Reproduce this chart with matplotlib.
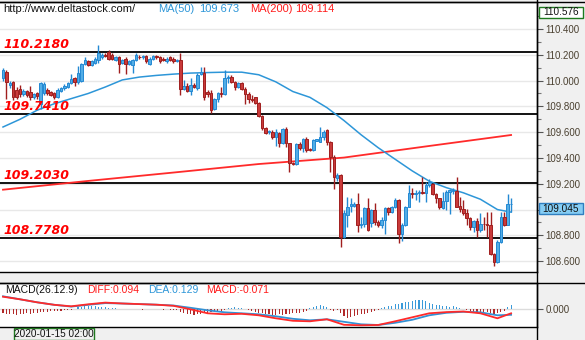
import matplotlib
matplotlib.use("Agg")
import matplotlib.pyplot as plt
import numpy as np
from matplotlib.patches import Rectangle
from matplotlib.lines import Line2D
from matplotlib.ticker import FixedLocator, FixedFormatter

# ---------------- data ----------------
opens = [110.020, 110.070, 109.965, 109.985, 109.930, 109.935, 109.895, 109.920, 109.910, 109.870,
         109.900, 109.815, 109.900, 109.930, 109.910, 109.905, 109.875, 109.920, 109.940, 109.950,
         109.980, 110.020, 109.990, 110.000, 110.130, 110.150, 110.120, 110.140, 110.160, 110.180,
         110.200, 110.220, 110.200, 110.160, 110.180, 110.140, 110.170, 110.130, 110.120, 110.160,
         110.185, 110.180, 110.190, 110.130, 110.170, 110.190, 110.180, 110.170, 110.150, 110.180,
         110.170, 110.150, 110.160, 109.932, 109.958, 109.922, 109.966, 109.940, 110.050, 110.056,
         109.910, 109.906, 109.777, 109.855, 109.901, 109.893, 110.018, 110.030, 109.992, 109.948,
         109.984, 109.937, 109.893, 109.860, 109.870, 109.824, 109.726, 109.630, 109.600, 109.604,
         109.565, 109.596, 109.519, 109.622, 109.514, 109.359, 109.353, 109.509, 109.475, 109.550,
         109.466, 109.462, 109.535, 109.527, 109.560, 109.617, 109.520, 109.410, 109.245, 109.268,
         108.790, 108.958, 109.030, 109.030, 109.043, 108.880, 108.886, 109.010, 108.894, 108.997,
         108.906, 108.881, 108.919, 109.010, 108.984, 109.018, 109.074, 108.808, 108.881, 109.023,
         109.126, 109.118, 109.130, 109.135, 109.130, 109.190, 109.200, 109.118, 109.087, 109.010,
         109.070, 109.139, 109.147, 109.147, 109.028, 109.002, 108.971, 108.932, 108.863, 108.914,
         108.842, 108.888, 108.886, 108.880, 108.656, 108.591, 108.751, 108.945, 108.881, 109.043]
highs = [110.100, 110.085, 109.995, 110.000, 109.950, 109.965, 109.935, 109.930, 109.960, 109.905,
         109.910, 109.990, 109.990, 109.940, 109.920, 109.915, 109.940, 109.950, 109.970, 109.990,
         110.050, 110.030, 110.110, 110.140, 110.180, 110.160, 110.160, 110.180, 110.276, 110.215,
         110.210, 110.237, 110.210, 110.190, 110.190, 110.170, 110.180, 110.160, 110.170, 110.210,
         110.195, 110.200, 110.200, 110.180, 110.200, 110.200, 110.190, 110.180, 110.180, 110.190,
         110.180, 110.170, 110.211, 110.005, 109.979, 110.018, 109.979, 110.056, 110.108, 110.108,
         109.927, 109.927, 109.863, 109.914, 109.953, 110.082, 110.043, 110.043, 109.998, 109.990,
         109.992, 109.953, 109.914, 109.888, 109.875, 109.837, 109.734, 109.638, 109.617, 109.617,
         109.622, 109.604, 109.630, 109.638, 109.519, 109.372, 109.514, 109.527, 109.557, 109.560,
         109.480, 109.545, 109.550, 109.638, 109.617, 109.622, 109.530, 109.420, 109.280, 109.276,
         109.000, 109.100, 109.087, 109.062, 109.126, 108.945, 109.023, 109.087, 109.002, 109.049,
         108.920, 108.945, 109.018, 109.023, 109.030, 109.087, 109.080, 108.894, 109.028, 109.190,
         109.165, 109.152, 109.152, 109.255, 109.217, 109.235, 109.204, 109.126, 109.087, 109.139,
         109.152, 109.157, 109.165, 109.250, 109.095, 109.075, 109.002, 108.945, 108.920, 108.932,
         108.971, 108.945, 108.984, 108.984, 108.661, 108.765, 108.984, 108.984, 109.120, 109.087]
lows = [109.995, 109.860, 109.945, 109.850, 109.860, 109.870, 109.880, 109.870, 109.850, 109.860,
        109.860, 109.780, 109.885, 109.890, 109.880, 109.860, 109.865, 109.910, 109.930, 109.940,
        109.970, 109.960, 109.970, 109.990, 110.120, 110.110, 110.110, 110.130, 110.140, 110.170,
        110.180, 110.160, 110.160, 110.150, 110.060, 110.130, 110.050, 110.120, 110.060, 110.150,
        110.170, 110.170, 110.140, 110.120, 110.160, 110.170, 110.140, 110.150, 110.140, 110.150,
        110.140, 110.145, 109.888, 109.927, 109.914, 109.888, 109.940, 109.927, 110.043, 109.850,
        109.875, 109.748, 109.772, 109.837, 109.875, 109.888, 109.979, 109.979, 109.927, 109.940,
        109.927, 109.819, 109.824, 109.837, 109.819, 109.715, 109.617, 109.586, 109.586, 109.545,
        109.493, 109.488, 109.509, 109.488, 109.294, 109.346, 109.346, 109.462, 109.449, 109.449,
        109.455, 109.457, 109.530, 109.527, 109.540, 109.500, 109.290, 109.160, 109.220, 108.713,
        108.780, 108.862, 108.984, 109.023, 108.829, 108.855, 108.868, 108.836, 108.863, 108.881,
        108.863, 108.855, 108.808, 108.958, 108.975, 109.010, 108.744, 108.760, 108.873, 109.018,
        109.087, 109.074, 109.062, 109.120, 109.062, 109.178, 109.113, 109.049, 109.002, 109.002,
        109.000, 108.963, 109.121, 109.020, 108.984, 108.958, 108.881, 108.842, 108.829, 108.790,
        108.829, 108.842, 108.790, 108.648, 108.565, 108.584, 108.744, 108.873, 108.881, 108.984]
closes = [110.080, 109.990, 109.980, 109.870, 109.875, 109.895, 109.920, 109.890, 109.870, 109.895,
          109.880, 109.980, 109.975, 109.900, 109.890, 109.875, 109.930, 109.940, 109.960, 109.980,
          110.010, 109.990, 110.060, 110.130, 110.160, 110.120, 110.150, 110.170, 110.210, 110.200,
          110.190, 110.170, 110.170, 110.180, 110.130, 110.160, 110.130, 110.150, 110.160, 110.200,
          110.182, 110.190, 110.150, 110.170, 110.190, 110.180, 110.150, 110.160, 110.170, 110.160,
          110.150, 110.160, 109.932, 109.958, 109.922, 109.966, 109.948, 110.043, 110.070, 109.870,
          109.895, 109.772, 109.855, 109.901, 109.897, 110.018, 110.030, 109.992, 109.948, 109.984,
          109.937, 109.893, 109.855, 109.850, 109.824, 109.726, 109.630, 109.596, 109.612, 109.565,
          109.604, 109.519, 109.622, 109.519, 109.359, 109.353, 109.509, 109.475, 109.550, 109.462,
          109.462, 109.540, 109.545, 109.565, 109.604, 109.520, 109.410, 109.250, 109.265, 108.790,
          108.971, 109.023, 109.040, 109.040, 108.881, 108.886, 109.010, 108.842, 108.997, 108.906,
          108.881, 108.919, 109.010, 108.984, 109.018, 109.074, 108.808, 108.881, 109.023, 109.126,
          109.118, 109.130, 109.135, 109.130, 109.190, 109.217, 109.118, 109.087, 109.023, 109.070,
          109.139, 109.152, 109.149, 109.023, 109.002, 108.971, 108.932, 108.863, 108.914, 108.842,
          108.888, 108.885, 108.880, 108.656, 108.591, 108.751, 108.945, 108.881, 109.043, 109.045]

ma50_idx = [0, 5, 10, 15, 20, 25, 30, 35, 40, 45, 50, 55, 60, 65, 70, 75, 80, 85, 90, 95,
            100, 105, 110, 115, 120, 125, 130, 135, 140, 145, 149]
ma50_val = [109.64, 109.70, 109.77, 109.82, 109.86, 109.90, 109.95, 110.005, 110.027, 110.04,
            110.05, 110.058, 110.062, 110.065, 110.065, 110.045, 109.99, 109.915, 109.87, 109.79,
            109.69, 109.58, 109.48, 109.39, 109.30, 109.22, 109.17, 109.13, 109.08, 109.00, 108.98]
ma200_idx = [0, 25, 50, 75, 100, 125, 149]
ma200_val = [109.154, 109.222, 109.287, 109.353, 109.403, 109.493, 109.578]

levels = [110.2180, 109.7410, 109.2030, 108.7780]

macd_hist = [-0.04, -0.05, -0.05, -0.05, -0.06, -0.05, -0.05, -0.04, -0.05, -0.04,
             -0.04, -0.03, -0.03, -0.03, -0.02, -0.02, -0.02, -0.02, -0.01, -0.01,
             -0.005, 0.005,
             0.02, 0.02, 0.03, 0.03, 0.03, 0.03, 0.02, 0.02, 0.02, 0.01, 0.01,
             0.01, 0.005, 0.005, 0.003, 0.0, 0.0, 0.002, 0.0, -0.002, 0.0, 0.0, 0.002, 0.0, 0.0,
             -0.002, 0.0, -0.003, -0.005, -0.01,
             -0.03, -0.04, -0.05, -0.05, -0.06, -0.05, -0.05, -0.04, -0.04, -0.03, -0.03, -0.02,
             -0.02, -0.01,
             0.01, 0.015, 0.02, 0.015, 0.01, 0.005,
             -0.01, -0.02, -0.03, -0.04, -0.04, -0.05, -0.05, -0.06, -0.06, -0.05, -0.06, -0.05,
             -0.05, -0.04, -0.04, -0.04,
             -0.03, -0.02,
             0.01, 0.02, 0.03, 0.04, 0.03, 0.02,
             -0.01, -0.02, -0.01,
             -0.04, -0.07, -0.09, -0.08, -0.07, -0.06, -0.05, -0.05, -0.04, -0.03,
             -0.02, -0.01,
             0.01, 0.02, 0.03, 0.03, 0.05, 0.05, 0.06, 0.07, 0.07, 0.08, 0.09, 0.09, 0.09, 0.08,
             0.06, 0.05, 0.04, 0.04,
             0.03, 0.03, 0.02, 0.03, 0.02, 0.01, 0.005,
             -0.01, -0.02, -0.03, -0.03, -0.03, -0.04, -0.03, -0.04, -0.05, -0.04, -0.03, -0.02,
             0.02, 0.04]
macd_idx = [0, 5, 10, 15, 20, 25, 30, 35, 40, 45, 50, 55, 60, 65, 70, 75, 80, 85, 90, 95,
            100, 105, 110, 115, 120, 125, 130, 135, 140, 145, 149]
diff_val = [0.126, 0.10, 0.07, 0.045, 0.03, 0.05, 0.067, 0.058, 0.052, 0.046, 0.035, 0.0,
            -0.04, -0.05, -0.045, -0.06, -0.09, -0.115, -0.12, -0.10, -0.155, -0.16, -0.157,
            -0.12, -0.08, -0.04, -0.028, -0.022, -0.04, -0.09, -0.04]
dea_val = [0.13, 0.10, 0.07, 0.045, 0.027, 0.045, 0.062, 0.058, 0.052, 0.046, 0.038, 0.015,
           -0.01, -0.03, -0.04, -0.05, -0.07, -0.095, -0.11, -0.10, -0.125, -0.15, -0.157,
           -0.135, -0.105, -0.06, -0.035, -0.025, -0.03, -0.06, -0.055]

site_text = "http://www.deltastock.com/"
ma50_text, ma50_last = "MA(50)", "109.673"
ma200_text, ma200_last = "MA(200)", "109.114"
macd_texts = ["MACD(26.12.9)", "DIFF:0.094", "DEA:0.129", "MACD:-0.071"]
last_price = "109.045"
top_price = "110.576"
date_label = "2020-01-15 02:00"
price_ticks = [108.6, 108.8, 109.0, 109.2, 109.4, 109.6, 109.8, 110.0, 110.2, 110.4]
# the 109.000 label is hidden behind the last-price box in the reference
price_tick_labels = ["108.600", "108.800", "", "109.200", "109.400", "109.600", "109.800",
                     "110.000", "110.200", "110.400"]

# ---------------- layout ----------------
W, H = 585, 340
fig = plt.figure(figsize=(W / 100, H / 100), dpi=100, facecolor="#f0f0f0")
UI = "Liberation Sans"


def fx(px):
    return px / W


def fy(py):
    return 1 - py / H


ax = fig.add_axes([0, fy(272), fx(537), (272 - 2) / H])
mx = fig.add_axes([0, fy(327), fx(537), (327 - 283) / H])

x = np.arange(len(opens))
o = np.array(opens); h = np.array(highs); l = np.array(lows); c = np.array(closes)
up = c >= o
RED_F, RED_E = "#c93a3a", "#a01e1e"
BLU_F, BLU_E = "#52ade6", "#2389d3"

xl = (-0.88, 156.6)
for a in (ax, mx):
    a.set_xlim(*xl)
    a.set_facecolor("white")
    a.set_xticks([])
    a.spines["left"].set_visible(False)
    for s in ("top", "bottom", "right"):
        a.spines[s].set_color("black")
        a.spines[s].set_linewidth(1.0)

ax.set_ylim(108.516, 110.609)
ax.yaxis.tick_right()
ax.yaxis.set_major_locator(FixedLocator(price_ticks))
ax.yaxis.set_major_formatter(FixedFormatter(price_tick_labels))
ax.yaxis.set_minor_locator(FixedLocator([v + 0.1 for v in price_ticks]))
ax.tick_params(axis="y", which="major", length=4, width=0.8, color="#555555",
               labelsize=7, labelcolor="#4a4030", pad=2)
ax.tick_params(axis="y", which="minor", length=3, width=0.8, color="#777777")
for t in ax.get_yticklabels():
    t.set_family(UI)
ax.grid(axis="y", which="major", color="#e8e8e8", lw=1.0, zorder=0)
ax.set_axisbelow(True)

# levels
for v in levels:
    ax.axhline(v, color="black", lw=1.3, zorder=2)

# moving averages
ax.plot(ma200_idx, ma200_val, color="#ff2a2a", lw=1.3, zorder=3)
ax.plot(ma50_idx, ma50_val, color="#2d96d8", lw=1.1, zorder=3)

# candles
ax.vlines(x[up], l[up], h[up], colors=BLU_E, lw=1.0, zorder=4)
ax.vlines(x[~up], l[~up], h[~up], colors=RED_E, lw=1.0, zorder=4)
bh = np.maximum(np.abs(c - o), 0.004)
bb = np.minimum(o, c)
ax.bar(x[up], bh[up], bottom=bb[up], width=0.74, color=BLU_F, edgecolor=BLU_E, lw=0.7, zorder=5)
ax.bar(x[~up], bh[~up], bottom=bb[~up], width=0.74, color=RED_F, edgecolor=RED_E, lw=0.7, zorder=5)

# level labels
for v in levels:
    ax.annotate(f"{v:.4f}", xy=(0, v), xycoords=("axes fraction", "data"),
                xytext=(3, 4), textcoords="offset pixels", ha="left", va="baseline",
                fontsize=9, fontweight="bold", fontstyle="italic", color="#ff0000",
                family="DejaVu Sans", zorder=6)

# MACD panel
hist = np.array(macd_hist)
mx.set_ylim(-0.177, 0.263)
mx.axhline(0, color="#dcdcdc", lw=1.0, zorder=1)
mx.bar(x[hist >= 0], hist[hist >= 0], width=0.32, color="#3a9ad9", zorder=2)
mx.bar(x[hist < 0], hist[hist < 0], width=0.32, color="#b22a2a", zorder=2)
mx.plot(macd_idx, dea_val, color="#3391d4", lw=1.3, zorder=3)
mx.plot(macd_idx, diff_val, color="#ff2a2a", lw=1.3, zorder=3)
mx.yaxis.tick_right()
mx.set_yticks([0.0])
mx.set_yticklabels(["0.000"], family=UI)
mx.tick_params(axis="y", length=4, width=0.8, color="#555555", labelsize=7,
               labelcolor="#4a4030", pad=2)

# frame lines
fig.add_artist(Line2D([fx(537), fx(537)], [fy(340), fy(0)], color="black", lw=1.0,
                      transform=fig.transFigure))
fig.add_artist(Line2D([0, 1], [fy(1.5), fy(1.5)], color="black", lw=1.0,
                      transform=fig.transFigure))
fig.add_artist(Line2D([0, 1], [fy(283), fy(283)], color="black", lw=1.0,
                      transform=fig.transFigure))

# top legend
fig.text(fx(3), fy(9), site_text, fontsize=8, family=UI, color="#111111", va="center")
fig.text(fx(158), fy(9), ma50_text, fontsize=8, family=UI, color="#2d96d8", va="center")
fig.text(fx(199), fy(9), ma50_last, fontsize=8, family=UI, color="#2d96d8", va="center")
fig.text(fx(250), fy(9), ma200_text, fontsize=8, family=UI, color="#ff1a1a", va="center")
fig.text(fx(295), fy(9), ma200_last, fontsize=8, family=UI, color="#ff1a1a", va="center")

# MACD legend
macd_pos = [5, 87, 148, 206]
macd_cols = ["#111111", "#ff1a1a", "#2d96d8", "#ff1a1a"]
for t, px, col in zip(macd_texts, macd_pos, macd_cols):
    fig.text(fx(px), fy(290), t, fontsize=7.5, family=UI, color=col, va="center")


def box(x0, y0, x1, y1, fc, ec, text, tc="#111111", fs=7.2):
    fig.add_artist(Rectangle((fx(x0), fy(y1)), (x1 - x0) / W, (y1 - y0) / H,
                             transform=fig.transFigure, facecolor=fc, edgecolor=ec, lw=1.0,
                             zorder=10))
    fig.text(fx((x0 + x1) / 2), fy((y0 + y1) / 2), text, ha="center", va="center",
             fontsize=fs, family=UI, color=tc, zorder=11)


box(539, 203, 583, 214, "#85cdf4", "#2f7fc0", last_price)
box(539, 6.5, 583, 17.5, "white", "#1f7a1f", top_price)
box(14, 328, 94, 340, "#f0f0f0", "#1f7a1f", date_label)

fig.savefig("out.png", dpi=100, facecolor=fig.get_facecolor())
